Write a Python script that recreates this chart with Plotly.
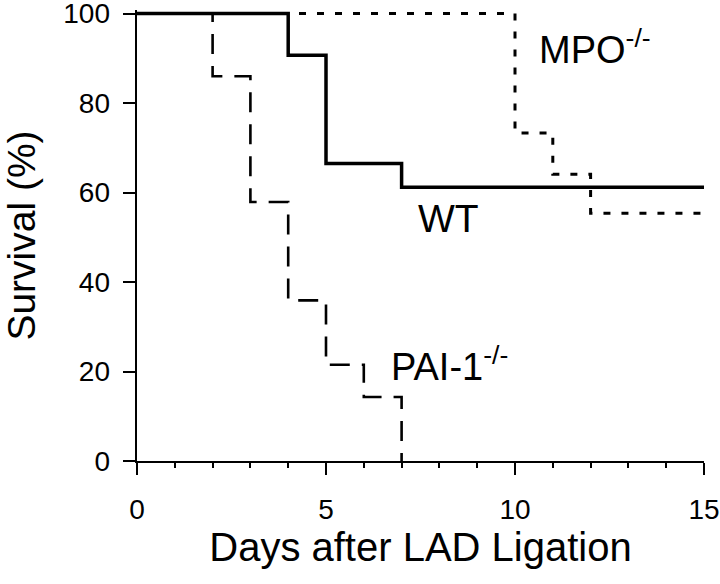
import plotly.graph_objects as go

# Kaplan-Meier style survival data (step curves)
wt_days = [0, 4, 5, 7, 15]
wt_surv = [100, 90.7, 66.5, 61.2, 61.2]

mpo_days = [0, 10, 11, 12, 15]
mpo_surv = [100, 73.3, 64.1, 55.4, 55.4]

pai_days = [0, 2, 3, 4, 5, 6, 7]
pai_surv = [100, 86.0, 57.9, 35.9, 21.5, 14.3, 0]

x_ticks = [0, 5, 10, 15]
y_ticks = [0, 20, 40, 60, 80, 100]

FONT = "Liberation Sans, Arial, sans-serif"

fig = go.Figure()
fig.add_trace(go.Scatter(x=mpo_days, y=mpo_surv, mode="lines", line_shape="hv",
                         line=dict(color="black", width=3, dash="7px,11px"), name="MPO-/-"))
fig.add_trace(go.Scatter(x=pai_days, y=pai_surv, mode="lines", line_shape="hv",
                         line=dict(color="black", width=2.6, dash="20px,12px"), name="PAI-1-/-"))
fig.add_trace(go.Scatter(x=wt_days, y=wt_surv, mode="lines", line_shape="hv",
                         line=dict(color="black", width=3.5), name="WT"))

fig.add_annotation(x=10.59, y=92.6, text="MPO<sup>-/-</sup>", showarrow=False,
                   xanchor="left", yanchor="middle", font=dict(size=38, family=FONT, color="black"))
fig.add_annotation(x=7.37, y=54.3, text="WT", showarrow=False,
                   xanchor="left", yanchor="middle", font=dict(size=39, family=FONT, color="black"))
fig.add_annotation(x=6.66, y=21.7, text="PAI-1<sup>-/-</sup>", showarrow=False,
                   xanchor="left", yanchor="middle", font=dict(size=38, family=FONT, color="black"))

fig.update_layout(
    width=720, height=584,
    margin=dict(l=137, r=16, t=10, b=123),
    paper_bgcolor="white", plot_bgcolor="white",
    showlegend=False,
    font=dict(family=FONT, color="black"),
)
fig.update_xaxes(
    range=[0, 15], tickvals=x_ticks, ticktext=[str(v) for v in x_ticks],
    automargin=False,
    showgrid=False, zeroline=False, showline=True, linecolor="black", linewidth=2,
    ticks="outside", ticklen=12, tickwidth=2, tickcolor="black",
    minor=dict(dtick=1, ticks="outside", ticklen=5, tickwidth=2, tickcolor="black", showgrid=False),
    tickfont=dict(size=28, family=FONT, color="black"), ticklabelstandoff=10,
    ticklabeloverflow="allow",
    title=dict(text="Days after LAD Ligation", font=dict(size=40, family=FONT, color="black"), standoff=9),
)
fig.update_yaxes(
    range=[0, 100.8], tickvals=y_ticks, ticktext=[str(v) + "\u00a0\u2009" for v in y_ticks],
    automargin=False,
    showgrid=False, zeroline=False, showline=True, linecolor="black", linewidth=2,
    ticks="outside", ticklen=12, tickwidth=2, tickcolor="black",
    tickfont=dict(size=28, family=FONT, color="black"),
    ticklabelposition="outside", ticklabelstandoff=-6,
    ticklabeloverflow="allow",
    title=dict(text="Survival (%)", font=dict(size=39, family=FONT, color="black"), standoff=30),
)

fig.write_html("out.html", config={"displayModeBar": False},
               post_script="document.body.style.margin='0';")
